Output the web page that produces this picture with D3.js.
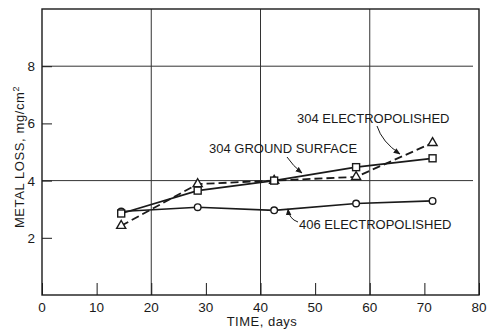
<!DOCTYPE html>
<html>
<head>
<meta charset="utf-8">
<script src="https://cdn.jsdelivr.net/npm/d3@7"></script>
<style>
  body { margin: 0; background: #fff; }
  svg { display: block; font-family: "Liberation Sans", Arial, sans-serif; }
</style>
</head>
<body>
<div id="chart"></div>
<script>
const days = [14.5, 28.5, 42.5, 57.5, 71.5];
const groundSurface304 = [2.85, 3.65, 4.0, 4.47, 4.78];
const electro304 = [2.42, 3.88, 4.0, 4.13, 5.32];
const electro406 = [2.92, 3.07, 2.96, 3.2, 3.29];
const xTicks = [0, 10, 20, 30, 40, 50, 60, 70, 80];
const yTicks = [2, 4, 6, 8];
const xGrid = [20, 40, 60];
const yGrid = [4, 8];

const W = 489, H = 330;
const margin = { left: 42, right: 10, top: 9, bottom: 35 };

const svg = d3.select('#chart').append('svg')
  .attr('width', W)
  .attr('height', H);

const x = d3.scaleLinear().domain([0, 80]).range([margin.left, W - margin.right]);
const y = d3.scaleLinear().domain([0, 10]).range([H - margin.bottom, margin.top]);

const ink = '#1a1a1a';

// grid
svg.append('g').selectAll('line').data(xGrid).join('line')
  .attr('x1', d => x(d)).attr('x2', d => x(d))
  .attr('y1', y(10)).attr('y2', y(0))
  .attr('stroke', '#333').attr('stroke-width', 1);
svg.append('g').selectAll('line').data(yGrid).join('line')
  .attr('x1', x(0)).attr('x2', x(80) - 6)
  .attr('y1', d => y(d)).attr('y2', d => y(d))
  .attr('stroke', '#333').attr('stroke-width', 1);

// frame
svg.append('rect')
  .attr('x', x(0)).attr('y', y(10))
  .attr('width', x(80) - x(0)).attr('height', y(0) - y(10))
  .attr('fill', 'none').attr('stroke', ink).attr('stroke-width', 1.4);

// axes
const xAxis = svg.append('g')
  .attr('transform', `translate(0,${y(0)})`)
  .call(d3.axisTop(x).tickValues(xTicks).tickSize(12).tickFormat(''));
xAxis.select('.domain').remove();
xAxis.selectAll('line').attr('stroke', ink);
svg.append('g').selectAll('text').data(xTicks).join('text')
  .attr('x', d => x(d)).attr('y', y(0) + 17)
  .attr('text-anchor', 'middle')
  .attr('font-size', 13.5).attr('fill', ink)
  .text(d => d);

const yAxis = svg.append('g')
  .attr('transform', `translate(${x(0)},0)`)
  .call(d3.axisRight(y).tickValues(yTicks).tickSize(10).tickFormat(''));
yAxis.select('.domain').remove();
yAxis.selectAll('line').attr('stroke', ink);
svg.append('g').selectAll('text').data(yTicks).join('text')
  .attr('x', x(0) - 7).attr('y', d => y(d) + 5)
  .attr('text-anchor', 'end')
  .attr('font-size', 13.5).attr('fill', ink)
  .text(d => d);

svg.append('text')
  .attr('x', 262).attr('y', H - 4)
  .attr('text-anchor', 'middle').attr('font-size', 13).attr('fill', ink)
  .attr('letter-spacing', 0.5)
  .text('TIME, days');

const yl = svg.append('text')
  .attr('transform', 'translate(24,157) rotate(-90)')
  .attr('text-anchor', 'middle').attr('font-size', 13).attr('fill', ink)
  .attr('letter-spacing', 0.6);
yl.append('tspan').text('METAL LOSS, mg/cm');
yl.append('tspan').attr('baseline-shift', 'super').attr('font-size', 9).text('2');

// series
const line = d3.line().x(d => x(d[0])).y(d => y(d[1]));
const pts = vals => days.map((d, i) => [d, vals[i]]);

svg.append('path').datum(pts(electro406)).attr('d', line)
  .attr('fill', 'none').attr('stroke', ink).attr('stroke-width', 1.6);
svg.append('path').datum(pts(groundSurface304)).attr('d', line)
  .attr('fill', 'none').attr('stroke', ink).attr('stroke-width', 1.8);
svg.append('path').datum(pts(electro304)).attr('d', line)
  .attr('fill', 'none').attr('stroke', ink).attr('stroke-width', 1.8)
  .attr('stroke-dasharray', '8,4');

svg.append('g').selectAll('circle').data(pts(electro406)).join('circle')
  .attr('cx', d => x(d[0])).attr('cy', d => y(d[1])).attr('r', 3.3)
  .attr('fill', '#fff').attr('stroke', ink).attr('stroke-width', 1.4);
svg.append('g').selectAll('path').data(pts(electro304)).join('path')
  .attr('d', d3.symbol(d3.symbolTriangle, 36))
  .attr('transform', d => `translate(${x(d[0])},${y(d[1])})`)
  .attr('fill', '#fff').attr('stroke', ink).attr('stroke-width', 1.4);
svg.append('g').selectAll('rect').data(pts(groundSurface304)).join('rect')
  .attr('x', d => x(d[0]) - 3.5).attr('y', d => y(d[1]) - 3.5)
  .attr('width', 7).attr('height', 7)
  .attr('fill', '#fff').attr('stroke', ink).attr('stroke-width', 1.4);

// annotations
svg.append('defs').append('marker')
  .attr('id', 'ah').attr('viewBox', '0 0 10 10')
  .attr('refX', 9).attr('refY', 5)
  .attr('markerWidth', 7).attr('markerHeight', 7)
  .attr('orient', 'auto')
  .append('path').attr('d', 'M0,1 L10,5 L0,9 Z').attr('fill', ink);

const labels = [
  { text: '304 ELECTROPOLISHED', tx: 297, ty: 123, path: 'M377,126 Q382,142 400,154' },
  { text: '304 GROUND SURFACE', tx: 209, ty: 153, path: 'M287,157 Q293,166 302,173' },
  { text: '406 ELECTROPOLISHED', tx: 299, ty: 229, path: 'M298,222 Q289,219 288,209' }
];
svg.append('g').selectAll('text').data(labels).join('text')
  .attr('x', d => d.tx).attr('y', d => d.ty)
  .attr('font-size', 13).attr('fill', ink)
  .text(d => d.text);
svg.append('g').selectAll('path').data(labels).join('path')
  .attr('d', d => d.path)
  .attr('fill', 'none').attr('stroke', ink).attr('stroke-width', 1)
  .attr('marker-end', 'url(#ah)');
</script>
</body>
</html>
